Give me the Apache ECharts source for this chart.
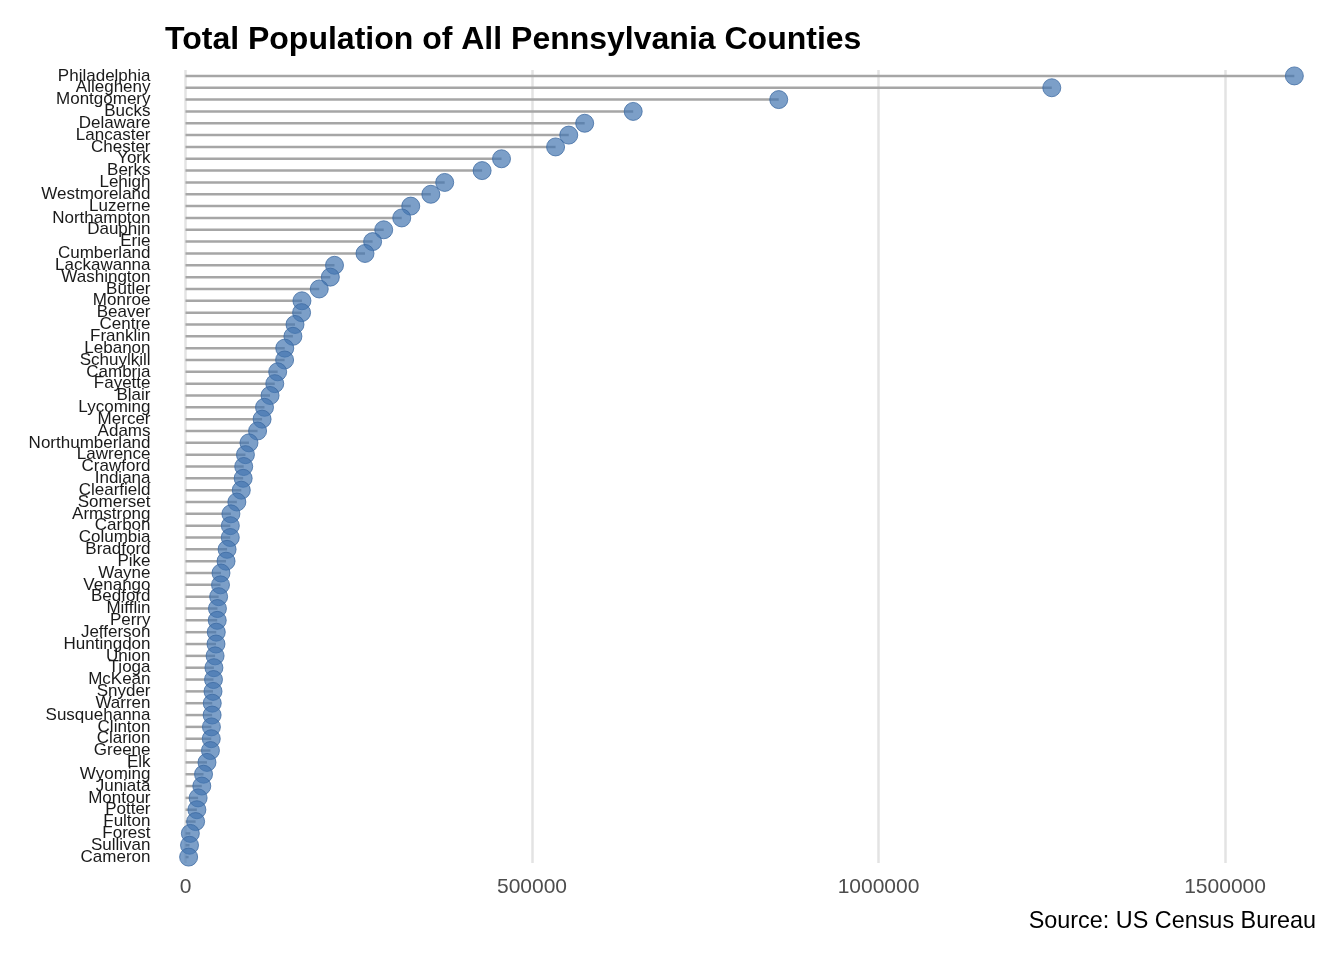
<!DOCTYPE html>
<html>
<head>
<meta charset="utf-8">
<script src="https://cdn.jsdelivr.net/npm/echarts@6/dist/echarts.min.js"></script>
<style>html,body{margin:0;padding:0;background:#fff;}#chart{width:1344px;height:960px;}</style>
</head>
<body>
<div id="chart"></div>
<script>
const counties = ["Philadelphia","Allegheny","Montgomery","Bucks","Delaware","Lancaster","Chester","York","Berks","Lehigh","Westmoreland","Luzerne","Northampton","Dauphin","Erie","Cumberland","Lackawanna","Washington","Butler","Monroe","Beaver","Centre","Franklin","Lebanon","Schuylkill","Cambria","Fayette","Blair","Lycoming","Mercer","Adams","Northumberland","Lawrence","Crawford","Indiana","Clearfield","Somerset","Armstrong","Carbon","Columbia","Bradford","Pike","Wayne","Venango","Bedford","Mifflin","Perry","Jefferson","Huntingdon","Union","Tioga","McKean","Snyder","Warren","Susquehanna","Clinton","Clarion","Greene","Elk","Wyoming","Juniata","Montour","Potter","Fulton","Forest","Sullivan","Cameron"];
const population = [1600000,1250000,856000,646000,576000,553000,534000,456000,428000,374000,354000,325000,312000,286000,270000,259000,215000,209000,193000,168000,167500,158000,155000,143200,143000,133000,128800,122000,114000,110500,104000,91600,86500,84000,83200,80500,74100,65500,64700,64600,60000,58500,51200,50500,47800,46100,45800,44400,44000,42700,41000,40400,39700,38600,38400,37400,37200,36000,31000,26000,23500,18200,16400,14600,7000,5800,4500];
const xTicks = [0,500000,1000000,1500000];
const titleText = "Total Population of All Pennsylvania Counties";
const captionText = "Source: US Census Bureau";

const font = "'Liberation Sans', Arial, Helvetica, sans-serif";
const chart = echarts.init(document.getElementById('chart'), null, {renderer:'canvas'});
chart.setOption({
  backgroundColor:'#ffffff',
  animation:false,
  title:[
    {text:titleText, left:160, top:19, textStyle:{fontFamily:font, fontSize:32, fontWeight:'bold', color:'#000'}},
    {text:captionText, right:23, top:905, textStyle:{fontFamily:font, fontSize:23.4, fontWeight:'normal', color:'#000'}}
  ],
  grid:{left:185.5, top:70, right:15, bottom:97, containLabel:false},
  xAxis:{
    type:'value', min:0, max:1650000, interval:500000,
    axisLine:{show:false}, axisTick:{show:false}, splitLine:{show:false},
    axisLabel:{
      fontFamily:font, fontSize:21, color:'#4d4d4d', margin:14, showMaxLabel:false,
      formatter:function(v){ return xTicks.indexOf(v) >= 0 ? String(v) : ''; }
    }
  },
  yAxis:{
    type:'category', data:counties, inverse:true, boundaryGap:true,
    axisLine:{show:false}, axisTick:{show:false}, splitLine:{show:false},
    axisLabel:{interval:0, fontFamily:font, fontSize:17, color:'#1a1a1a', margin:35}
  },
  series:[
    {
      type:'bar', data:population, barWidth:2.5, itemStyle:{color:'#a6a6a6'}, z:2,
      markLine:{
        silent:true, symbol:['none','none'], label:{show:false},
        lineStyle:{color:'#e3e3e3', width:2.5, type:'solid'},
        data:xTicks.map(function(t){return {xAxis:t};}),
        z:1
      }
    },
    {
      type:'scatter', data:population, symbol:'circle', symbolSize:18, z:3,
      itemStyle:{color:'rgba(68,118,176,0.88)', borderColor:'rgba(58,104,160,0.95)', borderWidth:1}
    }
  ]
});
</script>
</body>
</html>
